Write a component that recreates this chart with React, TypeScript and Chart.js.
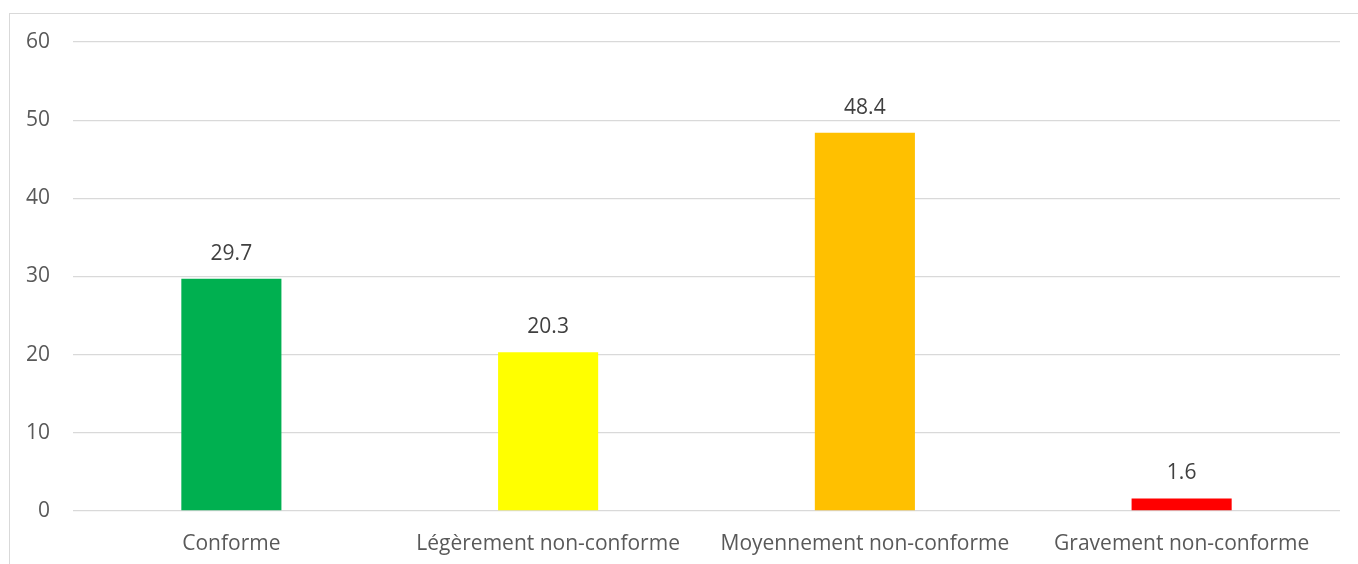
import React, { useEffect, useRef } from "react";
import { Chart, registerables } from "chart.js";

Chart.register(...registerables);

const categories = ["Conforme", "Légèrement non-conforme", "Moyennement non-conforme", "Gravement non-conforme"];
const values = [29.7, 20.3, 48.4, 1.6];
const barColors = ["#00B050", "#FFFF00", "#FFC000", "#FF0000"];
const yTicks = [0, 10, 20, 30, 40, 50, 60];

const FONT = "'Open Sans', 'Noto Sans', sans-serif";
const TEXT = "#595959";

const valueLabels = {
  id: "valueLabels",
  afterDatasetsDraw(chart: any) {
    const ctx = chart.ctx;
    const meta = chart.getDatasetMeta(0);
    ctx.save();
    ctx.font = `21px ${FONT}`;
    ctx.fillStyle = "#404040";
    ctx.textAlign = "center";
    ctx.textBaseline = "middle";
    meta.data.forEach((el: any, i: number) => {
      ctx.fillText(values[i].toFixed(1), el.x, el.y - 25);
    });
    ctx.restore();
  },
};

export default function App() {
  const ref = useRef<HTMLCanvasElement>(null);
  useEffect(() => {
    document.body.style.margin = "0";
    document.body.style.overflow = "hidden";
    const chart = new Chart(ref.current!, {
      type: "bar",
      data: {
        labels: categories,
        datasets: [
          {
            data: values,
            backgroundColor: barColors,
            categoryPercentage: 1,
            barPercentage: 0.316,
          },
        ],
      },
      options: {
        animation: false,
        responsive: false,
        layout: { padding: { top: 42, right: 18, left: 0, bottom: 0 } },
        plugins: { legend: { display: false }, tooltip: { enabled: false } },
        scales: {
          x: {
            grid: { display: false },
            border: { display: false },
            ticks: { color: TEXT, font: { family: FONT, size: 21 }, padding: 12, maxRotation: 0 },
            afterFit: (s: any) => { s.height = 53; },
          },
          y: {
            min: 0,
            max: 60,
            afterBuildTicks: (s: any) => { s.ticks = yTicks.map((v) => ({ value: v })); },
            grid: { color: "#d9d9d9", lineWidth: 1.3, drawTicks: false },
            border: { display: false },
            ticks: { color: TEXT, font: { family: FONT, size: 21 }, padding: 23 },
            afterFit: (s: any) => { s.width = 73; },
          },
        },
      },
      plugins: [valueLabels],
    });
    return () => chart.destroy();
  }, []);
  return (
    <div style={{ position: "absolute", left: 0, top: 0, width: 1358, height: 564, overflow: "hidden", background: "#fff" }}>
      <div style={{ position: "absolute", left: 9, top: 13, width: 1400, height: 600, border: "1px solid #d9d9d9", boxSizing: "border-box" }} />
      <canvas ref={ref} width={1358} height={564} style={{ position: "absolute", left: 0, top: 0 }} />
    </div>
  );
}
